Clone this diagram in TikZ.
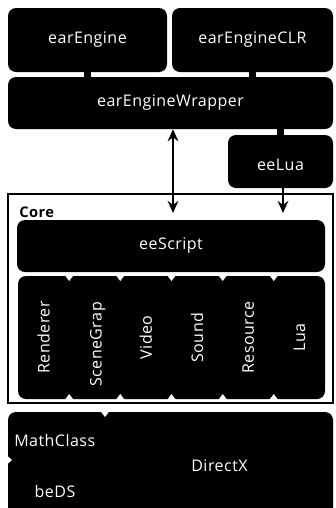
\documentclass[tikz,border=0pt]{standalone}
\usepackage{fontspec}
\setsansfont{Open Sans}[LetterSpace=3.0]
\usepackage{tikz}
\usetikzlibrary{positioning, arrows.meta}

\begin{document}
\begin{tikzpicture}[x=0.75pt, y=-0.75pt,
    blk/.style={fill=black, text=white, rounded corners=6pt,
                inner sep=0pt, font=\sffamily\fontsize{12}{14}\selectfont},
    lbl/.style={text=white, inner sep=0pt, font=\sffamily\fontsize{12}{14}\selectfont},
    notch/.style={fill=white},
    frame/.style={draw=black, line width=0.9pt},
    link/.style={line width=5pt, color=black},
    edge/.style={-{Stealth[width=8pt, length=9pt]}, line width=1.5pt, color=black}
]
\useasboundingbox (0,0) rectangle (336,508);

% application layer
\node[blk, minimum width=159*0.75pt, minimum height=64*0.75pt] (eng) at (87.5,40) {earEngine};
\node[blk, minimum width=161*0.75pt, minimum height=64*0.75pt] (engclr) at (252.5,40) {earEngineCLR};
\node[blk, minimum width=325*0.75pt, minimum height=52*0.75pt] (wrap) at (170.5,103) {earEngineWrapper};
\node[blk, minimum width=105*0.75pt, minimum height=53*0.75pt] (eelua) at (280.5,161.5) {\raisebox{-7pt}[0pt][0pt]{eeLua}};

% core
\node[frame, minimum width=325*0.75pt, minimum height=209*0.75pt] (core) at (170.5,298.5) {};
\node[anchor=west, inner sep=0pt, font=\sffamily\bfseries\fontsize{11}{13}\selectfont] (corelab) at (19,212) {Core};
\node[blk, minimum width=308*0.75pt, minimum height=52*0.75pt] (script) at (171,246) {eeScript};

% subsystems
\node[blk, minimum width=307*0.75pt, minimum height=123*0.75pt] (subs) at (171.5,337.5) {};
\foreach \x in {69.2, 120.3, 171.5, 222.7, 273.8} {
  \fill[notch] (\x-4.5,275) -- (\x+4.5,275) -- (\x,281) -- cycle;
  \fill[notch] (\x-4.5,400) -- (\x+4.5,400) -- (\x,394) -- cycle;
}
\foreach \name/\txt/\x in {rend/Renderer/43.6, video/Video/145.9, sound/Sound/197.1, res/Resource/248.2, lua/Lua/299.4}
  \node[lbl, rotate=90] (\name) at (\x, 337.5) {\txt};
\begin{scope}
  \clip (69,301) rectangle (120,399);
  \node[lbl, rotate=90, anchor=west] (scene) at (97.5,387) {SceneGraph};
\end{scope}

% base libraries
\node[blk, minimum width=325*0.75pt, minimum height=108*0.75pt] (base) at (170.5,466) {};
\fill[notch] (100.5,411) -- (109.5,411) -- (105,417) -- cycle;
\fill[notch] (7,455.5) -- (7,464.5) -- (12,460) -- cycle;
\node[lbl, anchor=west] (math) at (14,440) {MathClass};
\node[lbl] (beds) at (55,491) {beDS};
\node[lbl] (dx) at (219.5,466) {DirectX};

% connectors
\coordinate (scriptIn) at (173,213);
\coordinate (luaIn) at (283,213);
\draw[link] (eng.south) -- (eng.south |- wrap.north);
\draw[link] (engclr.south) -- (engclr.south |- wrap.north);
\draw[link] (eelua.north) -- (eelua.north |- wrap.south);
\draw[edge, {Stealth[width=8pt, length=9pt]}-{Stealth[width=8pt, length=9pt]}] (wrap.south -| scriptIn) -- (scriptIn);
\draw[edge] (eelua.south -| luaIn) -- (luaIn);
\end{tikzpicture}
\end{document}
